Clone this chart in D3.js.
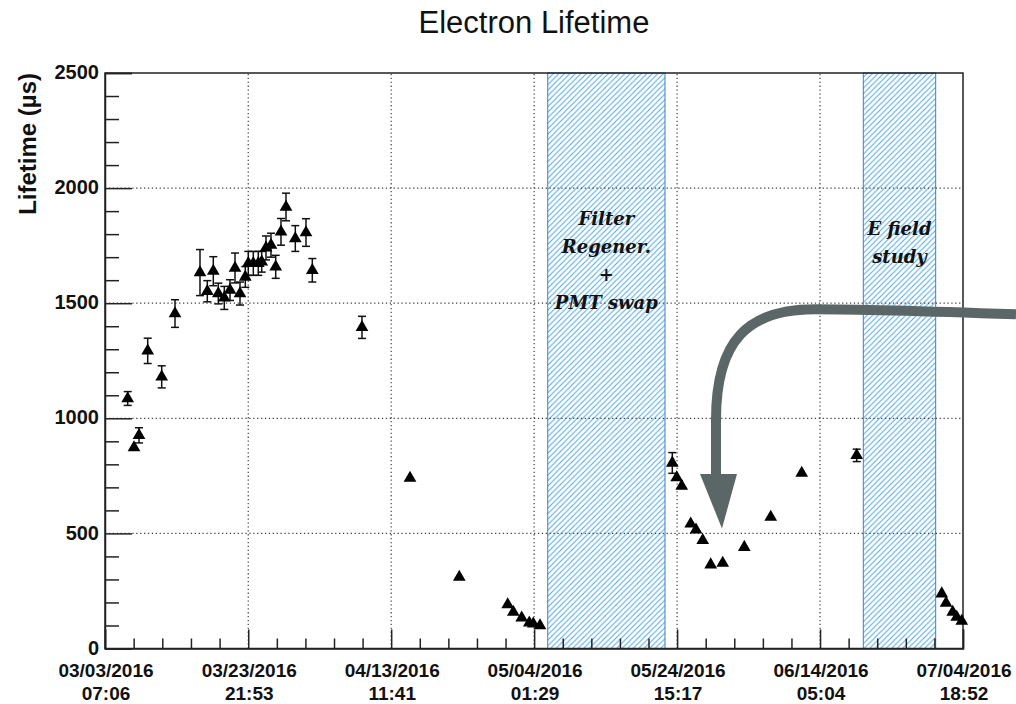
<!DOCTYPE html>
<html>
<head>
<meta charset="utf-8">
<script src="https://d3js.org/d3.v7.min.js"></script>
<style>
  body { margin: 0; background: #fff; }
  svg { display: block; font-family: "Liberation Sans", Arial, sans-serif; }
</style>
</head>
<body>
<svg id="lifetime" width="1016" height="704"></svg>
<script>
// x axis labels (ROOT time display)
var tickDates = ["03/03/2016 07:06", "03/23/2016 21:53", "04/13/2016 11:41", "05/04/2016 01:29",
                 "05/24/2016 15:17", "06/14/2016 05:04", "07/04/2016 18:52"];
var yTicks = [0, 500, 1000, 1500, 2000, 2500];

// measurements
var pointDates = [
  "03/06/2016 13:30", "03/07/2016 11:17", "03/08/2016 04:36", "03/09/2016 10:36", "03/11/2016 10:58",
  "03/13/2016 08:54", "03/16/2016 23:15", "03/18/2016 00:30", "03/18/2016 21:11", "03/19/2016 14:28",
  "03/20/2016 11:10", "03/21/2016 06:53", "03/22/2016 00:12", "03/22/2016 17:25", "03/23/2016 11:45",
  "03/23/2016 22:06", "03/24/2016 15:24", "03/25/2016 08:38", "03/25/2016 20:24", "03/26/2016 11:13",
  "03/27/2016 04:30", "03/27/2016 20:45", "03/28/2016 15:02", "03/29/2016 08:20", "03/30/2016 16:27",
  "04/01/2016 05:24", "04/02/2016 03:12", "04/09/2016 06:48", "04/16/2016 04:40", "04/23/2016 06:55",
  "04/30/2016 06:10", "05/01/2016 01:30", "05/02/2016 06:30", "05/03/2016 08:44", "05/03/2016 22:33",
  "05/04/2016 21:42", "05/23/2016 22:45", "05/24/2016 13:56", "05/25/2016 07:13", "05/26/2016 14:18",
  "05/27/2016 08:37", "05/28/2016 07:45", "05/29/2016 11:24", "05/31/2016 04:50", "06/03/2016 07:28",
  "06/07/2016 02:40", "06/11/2016 13:45", "06/19/2016 11:40", "07/01/2016 17:25", "07/02/2016 08:20",
  "07/03/2016 07:20", "07/03/2016 21:15", "07/04/2016 14:35"
];
var lifetimes = [
  1086, 873, 926, 1293, 1180,
  1455, 1633, 1552, 1639, 1542,
  1523, 1557, 1653, 1542, 1614,
  1673, 1673, 1673, 1680, 1740,
  1752, 1658, 1810, 1918, 1781,
  1807, 1643, 1395, 740, 310,
  191, 158, 133, 112, 107,
  100, 806, 742, 706, 542,
  516, 470, 364, 371, 440,
  571, 762, 839, 238, 197,
  158, 136, 119
];
var lifetimeErrs = [
  30, 15, 33, 55, 48,
  60, 100, 46, 63, 45,
  50, 45, 65, 50, 45,
  52, 52, 52, 45, 52,
  52, 50, 58, 60, 56,
  60, 51, 48, 10, 8,
  6, 6, 6, 5, 5,
  5, 45, 10, 10, 8,
  8, 8, 8, 8, 8,
  8, 10, 27, 8, 6,
  6, 5, 5
];

// hatched periods
var gapStarts = ["05/06/2016 00:24", "06/20/2016 10:30"];
var gapEnds = ["05/22/2016 21:30", "06/30/2016 20:30"];
var gapLabels = [["Filter", "Regener.", "+", "PMT swap"], ["E field", "study"]];
var gapLabelTop = [1840, 1795];   // lifetime value of first label baseline

// annotation arrow, days since first tick / lifetime
var arrowDays = [131.12, 118.74, 110.1, 102.19, 92.55, 87.94, 87.94, 87.94];
var arrowValues = [1452, 1465, 1474, 1474, 1474, 1340, 993, 752];
var headDays = [85.64, 90.96, 88.8];
var headValues = [758, 758, 521];

var svg = d3.select("#lifetime"),
  margin = { top: 73, right: 53, bottom: 55.5, left: 105 },
  W = +svg.attr("width"),
  H = +svg.attr("height");

var parseTime = d3.utcParse("%m/%d/%Y %H:%M");
var majors = tickDates.map(parseTime);
var t0 = majors[0];

var x = d3.scaleUtc()
  .domain([majors[0], majors[majors.length - 1]])
  .range([margin.left, W - margin.right]);
var y = d3.scaleLinear()
  .domain([0, 2500])
  .range([H - margin.bottom, margin.top]);

var dayX = (d) => x(new Date(t0.getTime() + d * 864e5));

// minor ticks: 5 divisions per major
var minorX = [];
for (var i = 0; i < majors.length - 1; i++) {
  for (var k = 1; k < 5; k++) {
    minorX.push(new Date(majors[i].getTime() + (majors[i + 1] - majors[i]) * k / 5));
  }
}
var minorY = d3.range(100, 2500, 100).filter((v) => v % 500 != 0);

// hatch pattern
var defs = svg.append("defs");
var pat = defs.append("pattern")
  .attr("id", "hatch")
  .attr("patternUnits", "userSpaceOnUse")
  .attr("width", 5.5)
  .attr("height", 5.5);
pat.append("path")
  .attr("d", "M-1,1 l2,-2 M0,5.5 l5.5,-5.5 M4.5,6.5 l2,-2")
  .style("stroke", "#4ea6e2")
  .style("stroke-width", 1);

// title
svg.append("text")
  .attr("x", (margin.left + W - margin.right) / 2)
  .attr("y", 33)
  .attr("text-anchor", "middle")
  .style("font-size", "31px")
  .style("fill", "#111")
  .text("Electron Lifetime");

// shaded periods
gapStarts.forEach((s, i) => {
  var x0 = x(parseTime(s)), x1 = x(parseTime(gapEnds[i]));
  svg.append("rect")
    .attr("x", x0)
    .attr("y", y(2500))
    .attr("width", x1 - x0)
    .attr("height", y(0) - y(2500))
    .style("fill", "url(#hatch)")
    .style("stroke", "#3f7fc4")
    .style("stroke-width", 1);
});

// grid
var grid = svg.append("g").style("stroke", "#444").style("stroke-width", 1.2).style("stroke-dasharray", "1.3,2.6");
grid.selectAll(".gx")
  .data(majors.slice(1, -1))
  .enter().append("line")
  .attr("x1", (d) => x(d)).attr("x2", (d) => x(d))
  .attr("y1", y(0)).attr("y2", y(2500));
grid.selectAll(".gy")
  .data(yTicks.slice(1, -1))
  .enter().append("line")
  .attr("x1", margin.left).attr("x2", W - margin.right)
  .attr("y1", (d) => y(d)).attr("y2", (d) => y(d));

// gap labels
gapLabels.forEach((lines, i) => {
  var cx = (x(parseTime(gapStarts[i])) + x(parseTime(gapEnds[i]))) / 2;
  svg.append("text")
    .attr("text-anchor", "middle")
    .style("font-family", "'DejaVu Serif', serif")
    .style("font-weight", "bold")
    .style("font-style", "italic")
    .style("font-size", "18px")
    .style("fill", "#111")
    .selectAll("tspan")
    .data(lines)
    .enter().append("tspan")
    .attr("x", cx)
    .attr("y", (d, j) => y(gapLabelTop[i]) + j * 28)
    .text((d) => d);
});

// axes
svg.append("g")
  .attr("transform", "translate(0," + y(0) + ")")
  .call(d3.axisBottom(x).tickValues(majors).tickSize(-19).tickFormat(""));
svg.append("g")
  .attr("transform", "translate(0," + y(0) + ")")
  .call(d3.axisBottom(x).tickValues(minorX).tickSize(-10).tickFormat(""))
  .select(".domain").remove();

var yAxis = svg.append("g")
  .attr("transform", "translate(" + margin.left + ",0)")
  .call(d3.axisLeft(y).tickValues(yTicks).tickSize(-27).tickPadding(6).tickFormat(d3.format("d")));
svg.append("g")
  .attr("transform", "translate(" + margin.left + ",0)")
  .call(d3.axisLeft(y).tickValues(minorY).tickSize(-14).tickFormat(""))
  .select(".domain").remove();

svg.selectAll(".tick line").style("stroke", "#222").style("stroke-width", 1.5);
yAxis.selectAll("text")
  .style("font-size", "20px")
  .style("font-weight", "bold")
  .style("fill", "#111")
  .attr("dy", "0.28em");

// two line date labels
var xl = svg.append("g")
  .style("font-size", "19px")
  .style("font-weight", "bold")
  .style("fill", "#111")
  .attr("text-anchor", "middle");
tickDates.forEach((s) => {
  var px = x(parseTime(s)) + 1;
  var parts = s.split(" ");
  xl.append("text").attr("x", px).attr("y", 676.5).text(parts[0]);
  xl.append("text").attr("x", px).attr("y", 699.5).text(parts[1]);
});

// frame
svg.append("rect")
  .attr("x", margin.left)
  .attr("y", margin.top)
  .attr("width", W - margin.right - margin.left)
  .attr("height", y(0) - margin.top)
  .style("fill", "none")
  .style("stroke", "#222")
  .style("stroke-width", 1.5);
svg.selectAll(".domain").style("stroke", "#222").style("stroke-width", 1.5);

// y title
svg.append("text")
  .attr("transform", "translate(36," + margin.top + ") rotate(-90)")
  .attr("text-anchor", "end")
  .style("font-size", "24px")
  .style("font-weight", "bold")
  .style("fill", "#111")
  .text("Lifetime (\u00b5s)");

// points
var pts = pointDates.map((d, i) => ({ date: parseTime(d), value: lifetimes[i], err: lifetimeErrs[i] }));

var eb = svg.append("g").style("stroke", "#111").style("stroke-width", 1.5);
pts.forEach((d) => {
  var px = x(d.date), top = y(d.value + d.err), bot = y(d.value - d.err);
  if (bot - top < 12) return;
  eb.append("line").attr("x1", px).attr("x2", px).attr("y1", top).attr("y2", bot);
  eb.append("line").attr("x1", px - 4).attr("x2", px + 4).attr("y1", top).attr("y2", top);
  eb.append("line").attr("x1", px - 4).attr("x2", px + 4).attr("y1", bot).attr("y2", bot);
});

svg.append("g")
  .selectAll("path")
  .data(pts)
  .enter().append("path")
  .attr("transform", (d) => "translate(" + x(d.date) + "," + y(d.value) + ")")
  .attr("d", d3.symbol(d3.symbolTriangle).size(70))
  .style("fill", "#000");

// arrow
var a = d3.path();
var ax = arrowDays.map(dayX), ay = arrowValues.map(y);
a.moveTo(ax[0], ay[0]);
a.bezierCurveTo(ax[1], ay[1], ax[2], ay[2], ax[3], ay[3]);
a.bezierCurveTo(ax[4], ay[4], ax[5], ay[5], ax[6], ay[6]);
a.lineTo(ax[7], ay[7]);
svg.append("path")
  .attr("d", a.toString())
  .style("fill", "none")
  .style("stroke", "#5b6767")
  .style("stroke-width", 10);
svg.append("path")
  .attr("d", "M" + headDays.map((d, i) => dayX(d) + "," + y(headValues[i])).join("L") + "Z")
  .style("fill", "#5b6767");
</script>
</body>
</html>
